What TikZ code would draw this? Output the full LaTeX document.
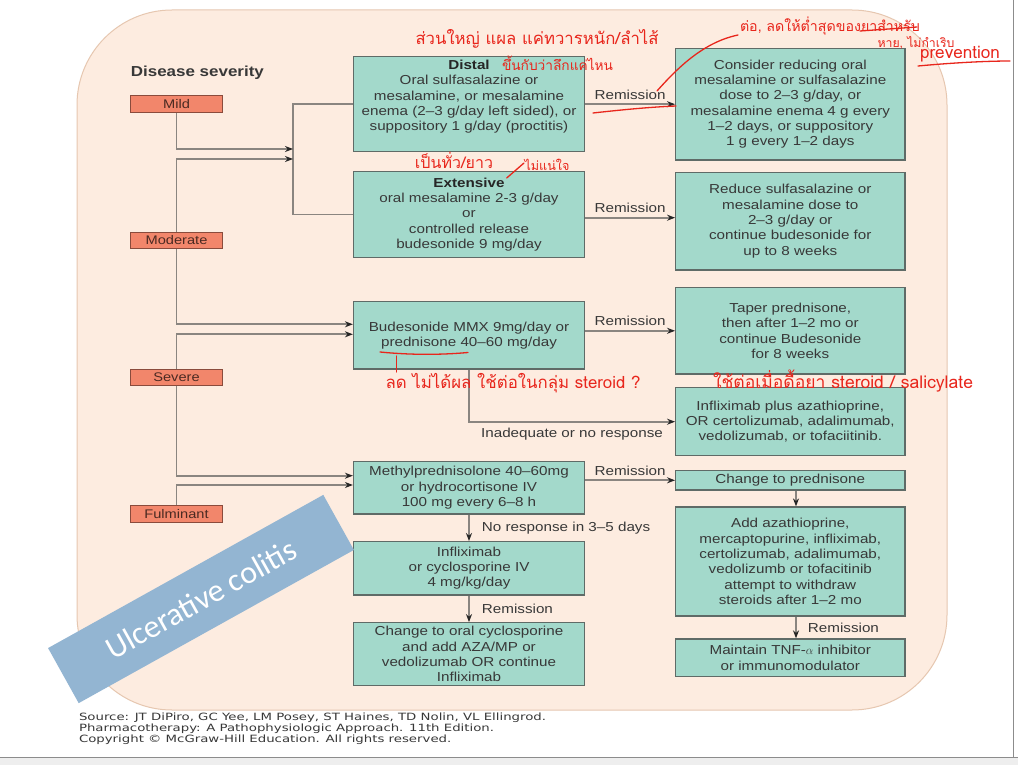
\documentclass[tikz,border=0pt]{standalone}
\usepackage{fontspec}
\usepackage{graphicx}
\setmainfont{Liberation Sans}[FakeStretch=1.17]
\newfontfamily\srcfont{DejaVu Sans}[FakeStretch=1.33]
\newfontfamily\banfont{Carlito}
\newfontfamily\thaifont[Script=Thai]{Loma}
\usetikzlibrary{arrows.meta,calc}
\definecolor{peach}{HTML}{FDECE0}
\definecolor{peachedge}{HTML}{E6C7B0}
\definecolor{boxfill}{HTML}{A3D9CB}
\definecolor{boxedge}{HTML}{5F6B67}
\definecolor{txt}{HTML}{383838}
\definecolor{sevfill}{HTML}{F2866B}
\definecolor{sevedge}{HTML}{8A4B3C}
\definecolor{sevtxt}{HTML}{4B2A22}
\definecolor{linec}{HTML}{8A8580}
\definecolor{arrc}{HTML}{262626}
\definecolor{bannerc}{HTML}{93B5D2}
\definecolor{redc}{HTML}{E8261C}
\definecolor{framec}{HTML}{8C8C8C}
\definecolor{footc}{HTML}{EEEEEE}
\newcommand{\bxfont}{\fontsize{13}{15.3}\selectfont}
\newcommand{\hwtext}[2]{\resizebox{#1}{!}{\thaifont #2}}
\begin{document}
\begin{tikzpicture}[x=1pt,y=-1pt,
  box/.style={draw=boxedge,line width=1.2pt,fill=boxfill,text=txt,align=center,font=\bxfont,inner sep=0pt,minimum width=231pt},
  rbox/.style={box,minimum width=229.3pt},
  bxtxt/.style={text=txt,align=center,font=\bxfont,inner sep=0pt},
  sev/.style={draw=sevedge,line width=1pt,fill=sevfill,text=sevtxt,font=\fontsize{12.5}{14}\selectfont,minimum width=92pt,minimum height=16.6pt,inner sep=0pt},
  conn/.style={draw=linec,line width=1.9pt},
  arr/.style={conn,-{Stealth[length=8pt,width=6pt,color=arrc]}},
  lab/.style={font=\fontsize{13}{15}\selectfont,text=txt,inner sep=1pt},
  redtxt/.style={text=redc,inner sep=0pt},
  redline/.style={draw=redc,line width=1.3pt,line cap=round},
  src/.style={font=\srcfont\fontsize{10}{11.2}\selectfont,text=txt,align=left,inner sep=0pt}
]
\useasboundingbox (0,0) rectangle (1018,765);
\fill[white] (0,0) rectangle (1018,765);
\fill[footc] (0,757) rectangle (1018,765);
\draw[framec,line width=1pt] (0,757) -- (1018,757);
\draw[framec,line width=1pt] (1013,0) -- (1013,757);

% background panel
\draw[draw=peachedge,fill=peach,line width=1pt,rounded corners=95pt] (77,10) rectangle (947,710);

% title
\node[anchor=west,font=\bfseries\fontsize{14.5}{16}\selectfont,text=txt,inner sep=0pt] (title) at (130.7,72.3) {Disease severity};

% severity boxes
\node[sev] (mild) at (176.5,104) {Mild};
\node[sev] (moderate) at (176.5,240.5) {Moderate};
\node[sev] (severe) at (176.5,377.3) {Severe};
\node[sev] (fulminant) at (176.5,514.2) {Fulminant};

% left column
\node[box,minimum height=95pt] (distal) at (469,104.2) {};
\node[bxtxt] (distaltxt) at (469,96.8) {{\bfseries\color{black!85}Distal}\\Oral sulfasalazine or\\mesalamine, or mesalamine\\enema (2–3 g/day left sided), or\\suppository 1 g/day (proctitis)};
\node[box,minimum height=85.6pt] (extensive) at (469,214.5) {{\bfseries\color{black!85}Extensive}\\oral mesalamine 2-3 g/day\\or\\controlled release\\budesonide 9 mg/day};
\node[box,minimum height=67.3pt] (bud) at (469,335.3) {Budesonide MMX 9mg/day or\\prednisone 40–60 mg/day};
\node[box,minimum height=52.3pt] (methyl) at (469,487.8) {Methylprednisolone 40–60mg\\or hydrocortisone IV\\100 mg every 6–8 h};
\node[box,minimum height=53.3pt] (infl) at (469,568.3) {Infliximab\\or cyclosporine IV\\4 mg/kg/day};
\node[box,minimum height=63pt] (coral) at (469,654.2) {Change to oral cyclosporine\\and add AZA/MP or\\vedolizumab OR continue\\Infliximab};

% right column
\node[rbox,minimum height=111.7pt] (consider) at (790.3,104.2) {Consider reducing oral\\mesalamine or sulfasalazine\\dose to 2–3 g/day, or\\mesalamine enema 4 g every\\1–2 days, or suppository\\1 g every 1–2 days};
\node[rbox,minimum height=97.7pt] (reduce) at (790.3,221.2) {Reduce sulfasalazine or\\mesalamine dose to\\2–3 g/day or\\continue budesonide for\\up to 8 weeks};
\node[rbox,minimum height=86.3pt] (taper) at (790.3,330.8) {Taper prednisone,\\then after 1–2 mo or\\continue Budesonide\\for 8 weeks};
\node[rbox,minimum height=68pt] (inflix) at (790.3,421.7) {Infliximab plus azathioprine,\\OR certolizumab, adalimumab,\\vedolizumab, or tofaciitinib.};
\node[rbox,minimum height=19.3pt] (cpred) at (790.3,480.3) {Change to prednisone};
\node[rbox,minimum height=109pt] (addaza) at (790.3,561.5) {Add azathioprine,\\mercaptopurine, infliximab,\\certolizumab, adalimumab,\\vedolizumb or tofacitinib\\attempt to withdraw\\steroids after 1–2 mo};
\node[rbox,minimum height=37.7pt] (maintain) at (790.3,657.8) {Maintain TNF-$\alpha$ inhibitor\\or immunomodulator};

% connectors from severity
\coordinate (barT) at (293,104.2);
\coordinate (barB) at (293,214.5);
\coordinate (jmild) at (293,149);
\coordinate (jmod) at (293,159);
\draw[conn] (distal.west) -- (barT) -- (barB) -- (extensive.west);
\draw[arr] (mild.south) |- (jmild);
\draw[arr] (moderate.north) |- (jmod);
\draw[arr] (moderate.south) |- ($(bud.west)+(0,-11)$);
\draw[arr] (severe.north) |- ($(bud.west)+(0,-1)$);
\draw[arr] (severe.south) |- ($(methyl.west)+(0,-12.1)$);
\draw[arr] (fulminant.north) |- ($(methyl.west)+(0,-2.8)$);

% remission arrows
\draw[arr] (distal.east) -- node[lab,above=2.8pt]{Remission} (consider.west);
\draw[arr] ($(extensive.east)+(0,3.2)$) -- node[lab,above=2.8pt]{Remission} ($(reduce.west)+(0,-3.5)$);
\draw[arr] (bud.east |- taper.west) -- node[lab,above=2.8pt]{Remission} (taper.west);
\draw[arr] (methyl.east |- cpred.west) -- node[lab,above=2.8pt]{Remission} (cpred.west);
\draw[arr] (bud.south) |- node[lab,below=4pt,pos=0.75]{Inadequate or no response} (inflix.west);
\draw[arr] (methyl.south) -- node[lab,right=11pt]{No response in 3–5 days} (infl.north);
\draw[arr] (infl.south) -- node[lab,right=11pt]{Remission} (coral.north);
\draw[arr] ($(cpred.south)+(5.7,0)$) -- ($(addaza.north)+(5.7,0)$);
\draw[arr] ($(addaza.south)+(5.7,0)$) -- node[lab,right=10pt]{Remission} ($(maintain.north)+(5.7,0)$);

% source
\node[src,anchor=north west] (source) at (78.8,712.5) {Source: JT DiPiro, GC Yee, LM Posey, ST Haines, TD Nolin, VL Ellingrod.\\Pharmacotherapy: A Pathophysiologic Approach. 11th Edition.\\Copyright © McGraw-Hill Education. All rights reserved.};

% handwritten annotations
\node[redtxt] (annA) at (537,39) {\hwtext{243pt}{ส่วนใหญ่ แผล แค่ทวารหนัก/ลำไส้}};
\node[redtxt] (annB) at (557.5,63) {\hwtext{111pt}{ขึ้นกับว่าลึกแค่ไหน}};
\node[redtxt] (annC1) at (830,26) {\hwtext{180pt}{ต่อ, ลดให้ต่ำสุดของยาสำหรับ}};
\node[redtxt] (annC2) at (916,42.5) {\hwtext{77pt}{หาย, ไม่กำเริบ}};
\node[redtxt] (annC3) at (960,54) {\hwtext{80pt}{prevention}};
\node[redtxt] (annD1) at (454,160) {\hwtext{78pt}{เป็นทั่ว/ยาว}};
\node[redtxt] (annD2) at (547,165) {\hwtext{45pt}{ไม่แน่ใจ}};
\node[redtxt] (annE) at (513,383) {\hwtext{255pt}{ลด ไม่ได้ผล ใช้ต่อในกลุ่ม steroid ?}};
\node[redtxt] (annF) at (843,381) {\hwtext{260pt}{ใช้ต่อเมื่อดื้อยา steroid / salicylate}};
\draw[redline] (593,113) .. controls (620,110) and (650,107) .. (676,106);
\draw[redline] (657,91) .. controls (680,65) and (705,42) .. (738,35);
\draw[redline] (860,31) -- (917,27);
\draw[redline] (918,66) .. controls (950,63) and (985,61) .. (1010,61);
\draw[redline] (506.7,178) -- (524,163);
\draw[redline] (380,352) .. controls (410,355) and (440,355) .. (468,352.5);
\draw[redline] (396.7,356) -- (396.7,372);

% banner
\node[fill=bannerc,text=white,rotate=29.1,minimum width=315pt,minimum height=63pt,inner sep=0pt,font=\banfont\fontsize{32}{36}\selectfont] (banner) at (201,599) {Ulcerative colitis};
\end{tikzpicture}
\end{document}
